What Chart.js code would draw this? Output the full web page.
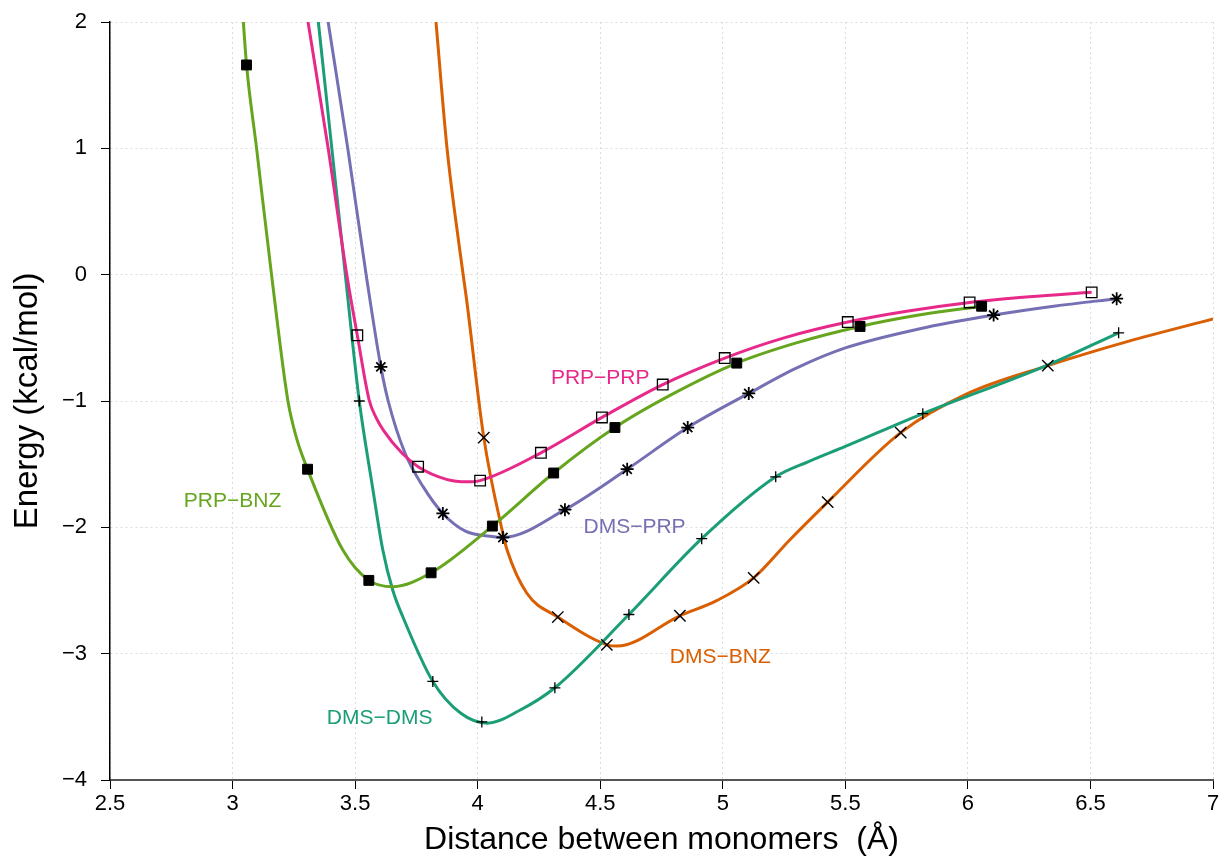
<!DOCTYPE html>
<html>
<head>
<meta charset="utf-8">
<script src="https://cdn.jsdelivr.net/npm/chart.js@4"></script>
<style>
  html, body { margin: 0; padding: 0; background: #fff; }
  canvas { display: block; }
</style>
</head>
<body>
<canvas id="energyChart" width="1223" height="865"></canvas>
<script>
// curves, [distance, energy]
const prpBnzCurve = [[3.044, 2.0], [3.057, 1.66], [3.098, 1.0], [3.159, 0.0], [3.226, -1.0], [3.262, -1.3], [3.306, -1.54], [3.45, -2.18], [3.556, -2.42], [3.654, -2.47], [3.81, -2.36], [4.06, -1.99], [4.31, -1.57], [4.56, -1.21], [4.8, -0.94], [5.057, -0.70], [5.3, -0.54], [5.56, -0.41], [5.8, -0.32], [6.056, -0.25]];
const prpPrpCurve = [[3.308, 2.0], [3.39, 1.0], [3.466, 0.0], [3.509, -0.48], [3.557, -0.99], [3.585, -1.13], [3.615, -1.23], [3.69, -1.41], [3.757, -1.52], [3.873, -1.62], [3.956, -1.64], [4.01, -1.63], [4.258, -1.41], [4.507, -1.13], [4.755, -0.87], [5.008, -0.66], [5.25, -0.50], [5.51, -0.375], [5.75, -0.29], [6.007, -0.22], [6.25, -0.175], [6.505, -0.14]];
const dmsPrpCurve = [[3.39, 2.0], [3.47, 1.0], [3.545, 0.0], [3.605, -0.73], [3.635, -1.0], [3.703, -1.41], [3.778, -1.68], [3.858, -1.89], [3.95, -2.03], [4.05, -2.07], [4.103, -2.08], [4.356, -1.86], [4.61, -1.54], [4.857, -1.21], [5.106, -0.94], [5.3, -0.74], [5.5, -0.58], [5.8, -0.43], [6.105, -0.32], [6.35, -0.25], [6.607, -0.19]];
const dmsDmsCurve = [[3.35, 2.0], [3.405, 1.0], [3.46, 0.0], [3.517, -1.0], [3.571, -1.68], [3.613, -2.18], [3.654, -2.50], [3.695, -2.71], [3.817, -3.22], [3.93, -3.47], [4.04, -3.55], [4.17, -3.45], [4.315, -3.27], [4.617, -2.69], [4.914, -2.09], [5.216, -1.60], [5.35, -1.48], [5.5, -1.36], [5.816, -1.10], [6.32, -0.72], [6.615, -0.46]];
const dmsBnzCurve = [[3.83, 2.0], [3.875, 1.0], [3.927, 0.195], [3.955, -0.2], [4.025, -1.29], [4.103, -2.05], [4.12, -2.18], [4.2, -2.52], [4.327, -2.71], [4.527, -2.93], [4.568, -2.94], [4.825, -2.70], [4.975, -2.58], [5.126, -2.40], [5.273, -2.10], [5.428, -1.80], [5.726, -1.25], [6.0, -0.94], [6.326, -0.72], [6.65, -0.53], [7.0, -0.35]];

// computed points shown with markers
const prpBnzMarks = [[3.057, 1.66], [3.306, -1.54], [3.556, -2.42], [3.81, -2.36], [4.06, -1.99], [4.31, -1.57], [4.56, -1.21], [5.057, -0.70], [5.56, -0.41], [6.056, -0.25]];
const prpPrpMarks = [[3.509, -0.48], [3.757, -1.52], [4.01, -1.63], [4.258, -1.41], [4.507, -1.13], [4.755, -0.87], [5.008, -0.66], [5.51, -0.375], [6.007, -0.22], [6.505, -0.14]];
const dmsPrpMarks = [[3.605, -0.73], [3.858, -1.89], [4.103, -2.08], [4.356, -1.86], [4.61, -1.54], [4.857, -1.21], [5.106, -0.94], [6.105, -0.32], [6.607, -0.19]];
const dmsDmsMarks = [[3.517, -1.0], [3.817, -3.22], [4.017, -3.54], [4.315, -3.27], [4.617, -2.69], [4.914, -2.09], [5.216, -1.60], [5.816, -1.10], [6.615, -0.46]];
const dmsBnzMarks = [[4.025, -1.29], [4.327, -2.71], [4.527, -2.93], [4.825, -2.70], [5.126, -2.40], [5.428, -1.80], [5.726, -1.25], [6.326, -0.72]];

const seriesNames = ['PRP\u2212BNZ', 'PRP\u2212PRP', 'DMS\u2212PRP', 'DMS\u2212DMS', 'DMS\u2212BNZ'];
const labelAt = [[3.0, -1.79], [4.5, -0.82], [4.64, -2.0], [3.6, -3.51], [4.99, -3.03]];
const xTicks = [2.5, 3, 3.5, 4, 4.5, 5, 5.5, 6, 6.5, 7];

const colors = ['#66a61e', '#e7298a', '#7570b3', '#1b9e77', '#d95f02'];
const curves = [prpBnzCurve, prpPrpCurve, dmsPrpCurve, dmsDmsCurve, dmsBnzCurve];
const marks = [prpBnzMarks, prpPrpMarks, dmsPrpMarks, dmsDmsMarks, dmsBnzMarks];
const markStyle = [
    { pointStyle: 'rect', radius: 7, fill: '#000', width: 1 },
    { pointStyle: 'rect', radius: 7.5, fill: 'rgba(0,0,0,0)', width: 1.3 },
    { pointStyle: 'star', radius: 6.5, fill: '#000', width: 1.8 },
    { pointStyle: 'cross', radius: 5.5, fill: '#000', width: 1.3 },
    { pointStyle: 'crossRot', radius: 8, fill: '#000', width: 1.4 }
];

const toXY = pts => pts.map(p => ({ x: p[0], y: p[1] }));
const datasets = [];
marks.forEach((m, i) => {
    datasets.push({
        label: seriesNames[i] + ' points',
        data: toXY(m),
        showLine: false,
        order: 0,
        pointStyle: markStyle[i].pointStyle,
        pointRadius: markStyle[i].radius,
        pointBackgroundColor: markStyle[i].fill,
        pointBorderColor: '#000',
        pointBorderWidth: markStyle[i].width
    });
});
curves.forEach((c, i) => {
    datasets.push({
        label: seriesNames[i],
        data: toXY(c),
        order: 1,
        borderColor: colors[i],
        borderWidth: 3,
        pointRadius: 0,
        fill: false,
        cubicInterpolationMode: 'monotone'
    });
});

// curve names written next to the curves
const curveLabels = {
    id: 'curveLabels',
    afterDatasetsDraw(chart) {
        const { ctx, scales: { x, y } } = chart;
        ctx.save();
        ctx.font = '21px "Liberation Sans", Arial, sans-serif';
        ctx.textAlign = 'center';
        ctx.textBaseline = 'middle';
        labelAt.forEach((p, i) => {
            ctx.fillStyle = colors[i];
            ctx.fillText(seriesNames[i], x.getPixelForValue(p[0]), y.getPixelForValue(p[1]));
        });
        ctx.restore();
    }
};

Chart.defaults.font.family = '"Liberation Sans", Arial, sans-serif';
Chart.defaults.color = '#000';

new Chart(document.getElementById('energyChart'), {
    type: 'line',
    data: { datasets },
    plugins: [curveLabels],
    options: {
        responsive: false,
        animation: false,
        devicePixelRatio: 1,
        layout: { padding: { left: 0, right: 10, top: 22, bottom: 0 } },
        plugins: { legend: { display: false }, tooltip: { enabled: false } },
        scales: {
            x: {
                type: 'linear',
                min: 2.5,
                max: 7,
                afterFit: s => { s.height = 85; },
                afterBuildTicks: s => { s.ticks = xTicks.map(v => ({ value: v })); },
                ticks: { font: { size: 22 }, padding: 2, callback: v => String(v) },
                grid: { color: '#dcdcdc', tickColor: '#000', tickLength: 9 },
                border: { color: '#555', width: 2, dash: [2, 3] },
                title: { display: true, text: 'Distance between monomers  (\u00c5)', font: { size: 32 }, padding: { top: 0, bottom: 6 } }
            },
            y: {
                min: -4,
                max: 2,
                afterFit: s => { s.width = 110; s.paddingTop = 0; s.paddingBottom = 0; },
                ticks: { stepSize: 1, font: { size: 22 }, padding: 14, callback: v => String(v).replace('-', '\u2212') },
                grid: { color: '#dcdcdc', tickColor: '#000', tickLength: 9 },
                border: { color: '#000', width: 1.5, dash: [2, 3] },
                title: { display: true, text: 'Energy (kcal/mol)', font: { size: 33 }, padding: { top: 8, bottom: 0 } }
            }
        }
    }
});
</script>
</body>
</html>
